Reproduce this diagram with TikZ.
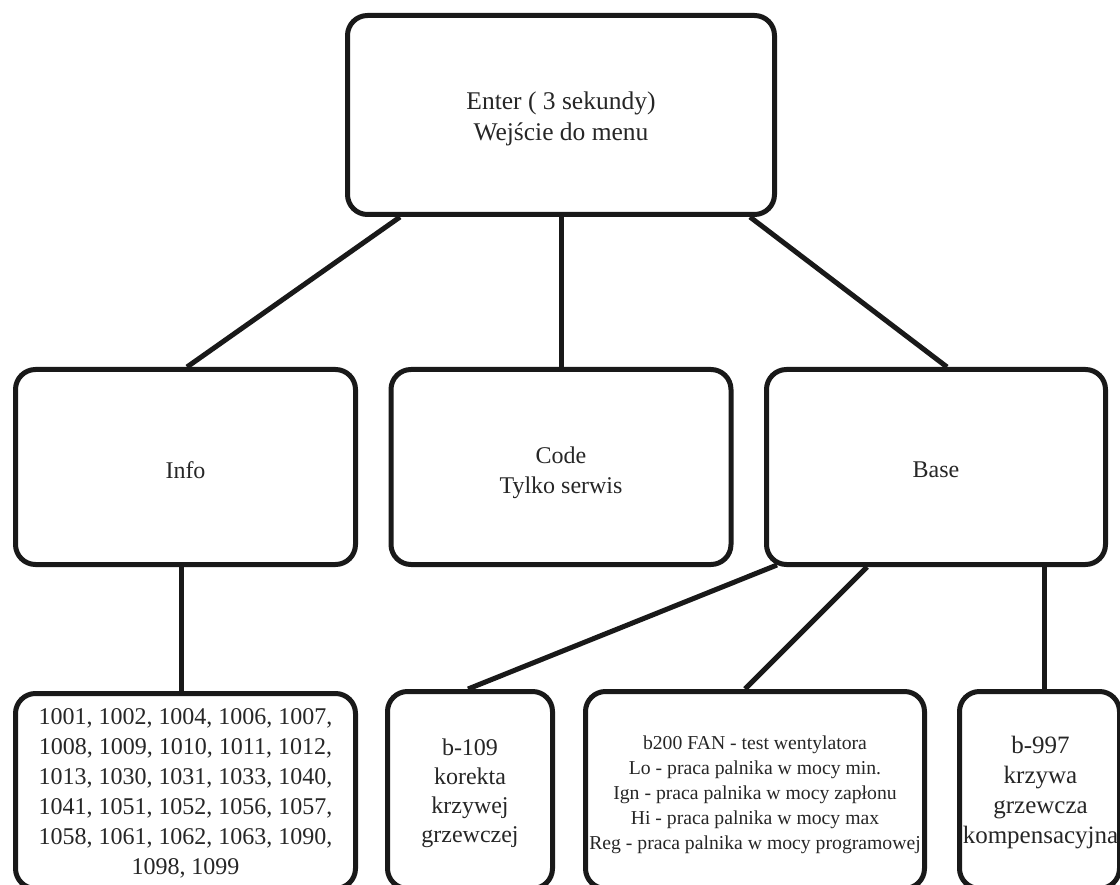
\documentclass[tikz,border=0pt]{standalone}
\usepackage{fontspec}
\setmainfont{Liberation Serif}
\usetikzlibrary{calc}
\begin{document}
\begin{tikzpicture}[x=1pt,y=-1pt,
  box/.style={draw=black!90, line width=5pt, rounded corners=20pt, inner sep=0pt},
  txt/.style={align=center, inner sep=0pt, text=black!85},
  link/.style={draw=black!90, line width=5pt},
  fA/.style={font=\fontsize{25.5}{31}\selectfont},
  fB/.style={font=\fontsize{24}{30}\selectfont},
  fC/.style={font=\fontsize{24}{29}\selectfont},
  fE/.style={font=\fontsize{25}{30}\selectfont},
  fD/.style={font=\fontsize{19.7}{25}\selectfont}]
\useasboundingbox (0,0) rectangle (1120,885);
\clip (0,0) rectangle (1120,885);
\node[box,minimum width=427,minimum height=199] (top) at (561,115) {};
\node[box,minimum width=340,minimum height=195] (info) at (185.5,467) {};
\node[box,minimum width=340,minimum height=195] (code) at (561,467) {};
\node[box,minimum width=339,minimum height=195] (base) at (936,467) {};
\node[box,minimum width=340,minimum height=195] (b1) at (185.5,791) {};
\node[box,minimum width=165,minimum height=197] (b2) at (470,790) {};
\node[box,minimum width=339,minimum height=197] (b3) at (755,790) {};
\node[box,minimum width=160,minimum height=197] (b4) at (1039.5,790) {};
\node[txt,fA] (topt) at ($(top)+(0,4)$) {Enter ( 3 sekundy)\\Wejście do menu};
\node[txt,fB] (infot) at ($(info)+(0,3)$) {Info};
\node[txt,fB] (codet) at ($(code)+(0,6)$) {Code\\Tylko serwis};
\node[txt,fB] (baset) at ($(base)+(0,3)$) {Base};
\node[txt,fB] (b1t) at ($(b1)+(0,2)$) {1001, 1002, 1004, 1006, 1007,\\1008, 1009, 1010, 1011, 1012,\\1013, 1030, 1031, 1033, 1040,\\1041, 1051, 1052, 1056, 1057,\\1058, 1061, 1062, 1063, 1090,\\1098, 1099};
\node[txt,fC] (b2t) at ($(b2)+(0,3)$) {b-109\\korekta\\krzywej\\grzewczej};
\node[txt,fD] (b3t) at ($(b3)+(0,5)$) {b200 FAN - test wentylatora\\Lo - praca palnika w mocy min.\\Ign - praca palnika w mocy zapłonu\\Hi - praca palnika w mocy max\\Reg - praca palnika w mocy programowej};
\node[txt,fE] (b4t) at ($(b4)+(1,3)$) {b-997\\krzywa\\grzewcza\\kompensacyjna};
\draw[link] ($(top.south)+(-161,0)$) -- ($(info.north)+(1.5,0)$);
\draw[link] (top.south) -- (code.north);
\draw[link] ($(top.south)+(189,0)$) -- ($(base.north)+(11,0)$);
\draw[link] ($(info.south)+(-4.5,0)$) -- ($(b1.north)+(-4.5,0)$);
\draw[link] ($(base.south)+(-159,-2)$) -- ($(b2.north)+(-2,0)$);
\draw[link] ($(base.south)+(-69,0)$) -- ($(b3.north)+(-10,0)$);
\draw[link] ($(base.south)+(108,0)$) -- ($(b4.north)+(4.5,0)$);
\end{tikzpicture}
\end{document}
